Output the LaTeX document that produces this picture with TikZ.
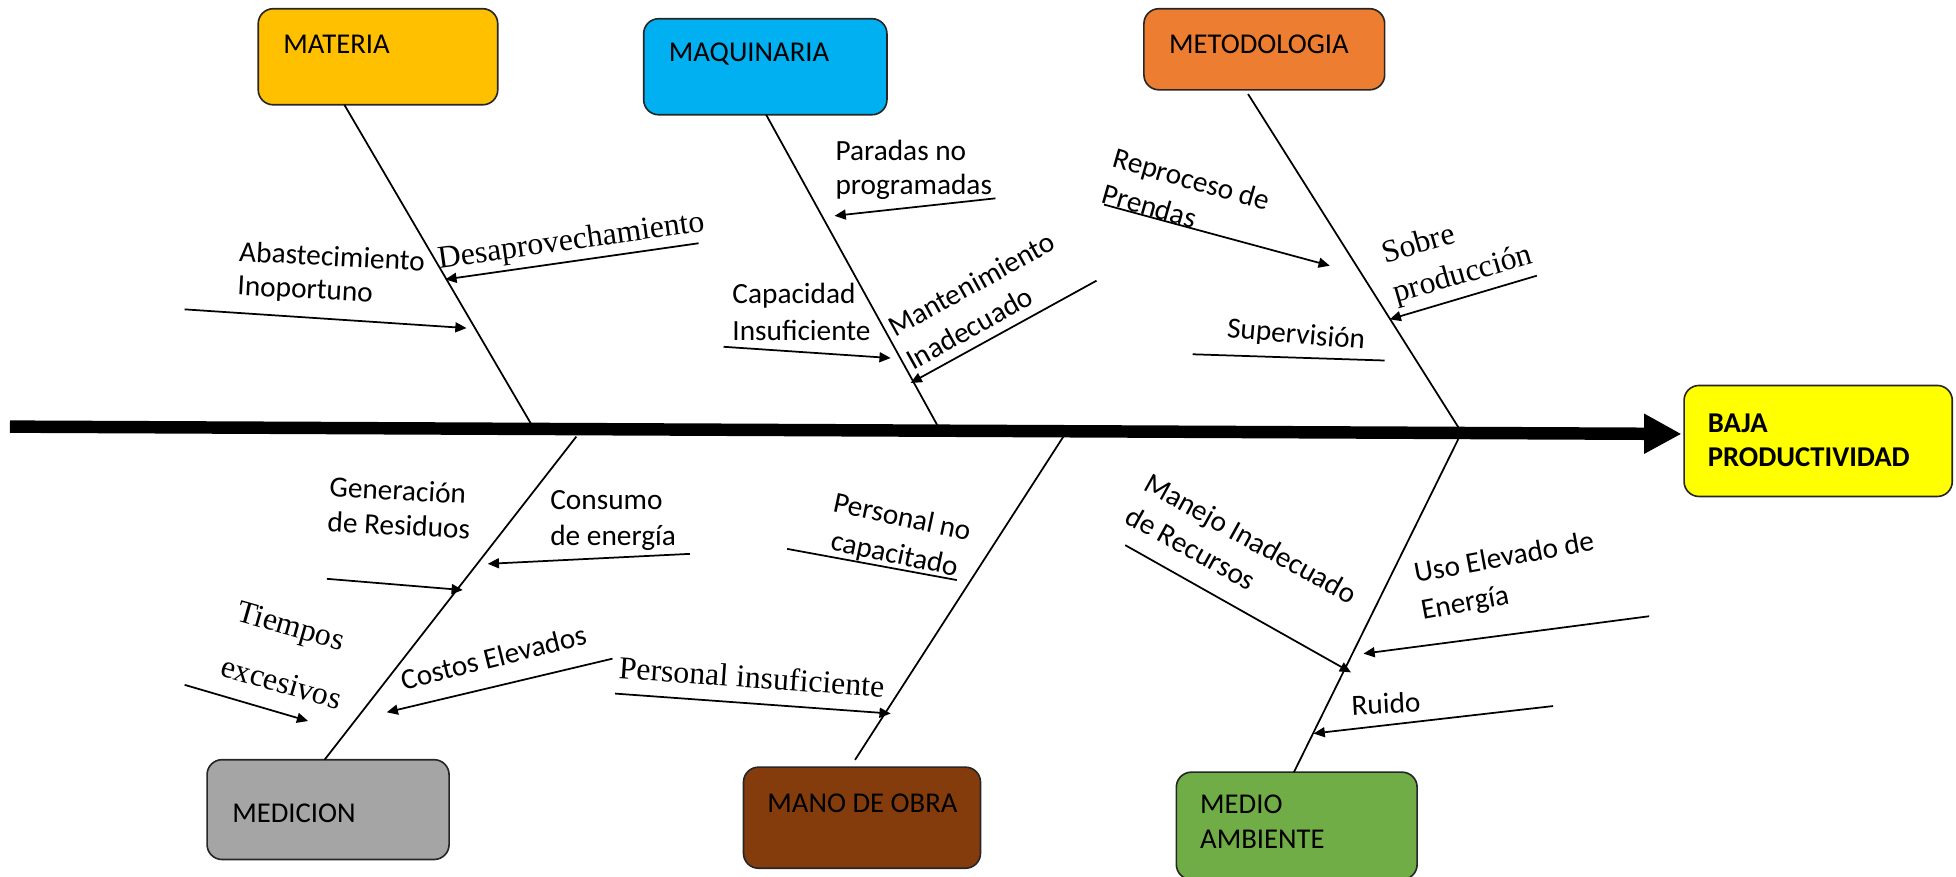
\documentclass[tikz,border=0pt]{standalone}
\usepackage{fontspec}
\setmainfont{Carlito}
\newfontfamily\timesfont{Liberation Serif}
\usetikzlibrary{arrows.meta}

\definecolor{cMateria}{HTML}{FFC000}
\definecolor{cMaquinaria}{HTML}{00B0F0}
\definecolor{cMetodo}{HTML}{ED7D31}
\definecolor{cMedicion}{HTML}{A5A5A5}
\definecolor{cMano}{HTML}{843C0C}
\definecolor{cMedio}{HTML}{70AD47}
\definecolor{cEfecto}{HTML}{FFFF00}

\begin{document}
\begin{tikzpicture}[x=1pt,y=-1pt,
  box/.style={draw=black!85, line width=1.3pt, rounded corners=12pt,
              inner sep=0pt, outer sep=0pt},
  boxlabel/.style={font=\fontsize{23}{28}\selectfont, inner sep=0pt, anchor=base west},
  bone/.style={line width=1.4pt},
  spine/.style={line width=10pt, -{Triangle[length=30pt,width=30pt]}, shorten >=2pt},
  cause/.style={line width=1.4pt, -{Triangle[length=9pt,width=8pt]}},
  plain/.style={line width=1.4pt},
  sans/.style={font=\fontsize{23.5}{#1}\selectfont, inner sep=0pt, align=left},
  sans/.default=29,
  serif/.style={font=\timesfont\fontsize{25.5}{#1}\selectfont, inner sep=0pt, align=left},
  serif/.default=30,
]
\useasboundingbox (0,0) rectangle (1568,703);

% category boxes
\node[box, fill=cMateria,    minimum width=192pt, minimum height=77pt] (materia)     at (303,45.5)   {};
\node[box, fill=cMaquinaria, minimum width=195pt, minimum height=77pt] (maquinaria)  at (613.5,53.5) {};
\node[box, fill=cMetodo,     minimum width=193pt, minimum height=65pt] (metodologia) at (1013.5,39.5) {};
\node[box, fill=cMedicion,   minimum width=194pt, minimum height=80pt] (medicion)    at (263,649)    {};
\node[box, fill=cMano,       minimum width=190pt, minimum height=81pt] (manoobra)    at (691,655.5)  {};
\node[box, fill=cMedio,      minimum width=193pt, minimum height=86pt] (medio)       at (1039.5,662) {};
\node[box, fill=cEfecto,     minimum width=215pt, minimum height=89pt] (baja)        at (1457.5,353.5) {};

\node[boxlabel] (materiaT)     at (227,43)  {MATERIA};
\node[boxlabel] (maquinariaT)  at (536,49)  {MAQUINARIA};
\node[boxlabel] (metodologiaT) at (937,43)  {METODOLOGIA};
\node[boxlabel] (medicionT)    at (186,659) {MEDICION};
\node[boxlabel] (manoobraT)    at (615,651) {MANO DE OBRA};
\node[boxlabel, anchor=center, align=left] (medioT) at (1012,659) {MEDIO\\AMBIENTE};
\node[boxlabel, anchor=center, align=left, font=\bfseries\fontsize{23}{27.5}\selectfont]
     (bajaT) at (1450,353) {BAJA\\PRODUCTIVIDAD};

% main spine
\coordinate (tail) at (8,342);
\draw[spine] (tail) -- (baja.177);

% junctions of the bones with the spine
\coordinate (jA) at (427,342);
\coordinate (jB) at (752,342);
\coordinate (jC) at (1170,344);
\coordinate (kA) at (462,350);
\coordinate (kB) at (855,346);
\coordinate (kC) at (1169,352);

% bones
\draw[bone] (materia.-125) -- (jA);
\draw[bone] (maquinaria.-89) -- (jB);
\draw[bone, shorten <=4pt] (metodologia.-115) -- (jC);
\draw[bone] (kA) -- (medicion.94);
\draw[bone, shorten >=7pt] (kB) -- (manoobra.103);
\draw[bone] (kC) -- (medio.93);

% cause arrows: start and end points
\coordinate (desS) at (560,195);   \coordinate (desE) at (357,224);
\coordinate (abaS) at (148,248);   \coordinate (abaE) at (374,263);
\coordinate (parS) at (798,159);   \coordinate (parE) at (669,173);
\coordinate (capS) at (580,278);   \coordinate (capE) at (714,287);
\coordinate (manS) at (879,225);   \coordinate (manE) at (730,307);
\coordinate (repS) at (885,164);   \coordinate (repE) at (1066,213);
\coordinate (sobS) at (1232,221);  \coordinate (sobE) at (1114,256);
\coordinate (supS) at (956,284);   \coordinate (supE) at (1110,289);
\coordinate (genS) at (262,464);   \coordinate (genE) at (371,473);
\coordinate (conS) at (553,444);   \coordinate (conE) at (391,452);
\coordinate (tieS) at (148,549);   \coordinate (tieE) at (247,578);
\coordinate (cosS) at (491,528);   \coordinate (cosE) at (310,571);
\coordinate (pncS) at (631,440);   \coordinate (pncE) at (767,465);
\coordinate (pinS) at (493,556);   \coordinate (pinE) at (714,572);
\coordinate (mjeS) at (902,437);   \coordinate (mjeE) at (1083,539);
\coordinate (usoS) at (1322,494);  \coordinate (usoE) at (1093,524);
\coordinate (ruiS) at (1245,566);  \coordinate (ruiE) at (1053,588);

\draw[cause] (desS) -- (desE);
\draw[cause] (abaS) -- (abaE);
\draw[cause] (parS) -- (parE);
\draw[cause] (capS) -- (capE);
\draw[cause] (manS) -- (manE);
\draw[cause] (repS) -- (repE);
\draw[cause] (sobS) -- (sobE);
\draw[plain] (supS) -- (supE);
\draw[cause] (genS) -- (genE);
\draw[cause] (conS) -- (conE);
\draw[cause] (tieS) -- (tieE);
\draw[cause] (cosS) -- (cosE);
\draw[plain] (pncS) -- (pncE);
\draw[cause] (pinS) -- (pinE);
\draw[cause] (mjeS) -- (mjeE);
\draw[cause] (usoS) -- (usoE);
\draw[cause] (ruiS) -- (ruiE);

% cause labels
\node[serif, rotate=8]          (lDesap)   at (458,194)      {Desaprovechamiento};
\node[sans=27, rotate=-3]       (lAbast)   at (265.5,220.5)  {Abastecimiento\\Inoportuno};
\node[sans=27]                  (lParadas) at (732.5,136)    {Paradas no\\programadas};
\node[sans=29]                  (lCapac)   at (642.5,250)    {Capacidad\\Insuficiente};
\node[sans=30, rotate=29]       (lMant)    at (786,241)      {Mantenimiento\\Inadecuado};
\node[sans=30, rotate=-16]      (lRepro)   at (951,158)      {Reproceso de\\Prendas};
\node[serif=33, rotate=16]      (lSobre)   at (1168.5,205)   {Sobre\\producción};
\node[sans, rotate=-5]          (lSuperv)  at (1039,269)     {Supervisión};
\node[sans=28, rotate=-3]       (lGener)   at (320.5,407)    {Generación\\de Residuos};
\node[sans=29]                  (lConsumo) at (491.5,417)    {Consumo\\de energía};
\node[serif=46, rotate=-16]     (lTiempos) at (232,525)      {Tiempos\\excesivos};
\node[sans, rotate=14]          (lCostos)  at (395.5,527)    {Costos Elevados};
\node[sans=30, rotate=-12, align=center] (lPersNo) at (720,430.5) {Personal no\\capacitado};
\node[serif, rotate=-4]         (lPersIns) at (602.6,542.5)  {Personal insuficiente};
\node[sans=30, rotate=-29]      (lManejo)  at (995.5,444.6)  {Manejo Inadecuado\\de Recursos};
\node[sans=30, rotate=10.5]     (lUso)     at (1208.7,462.7) {Uso Elevado de\\Energía};
\node[sans, rotate=3]           (lRuido)   at (1111,564)     {Ruido};
\end{tikzpicture}
\end{document}
